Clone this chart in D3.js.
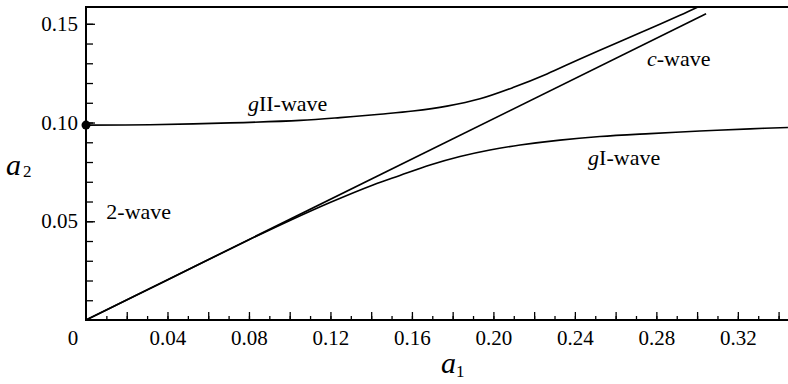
<!DOCTYPE html>
<html>
<head>
<meta charset="utf-8">
<script src="https://cdn.jsdelivr.net/npm/d3@7"></script>
<style>
  body { margin: 0; background: #fff; }
  text { font-family: "Liberation Serif", "DejaVu Serif", serif; }
</style>
</head>
<body>
<svg id="chart" width="788" height="384"></svg>
<script>
// a1 / a2 curves
const cWave = [[0, 0], [0.3044, 0.1551]];

const gIIWave = [
  [0, 0.0987], [0.0314, 0.0989], [0.0707, 0.0998], [0.1051, 0.1011],
  [0.1247, 0.1025], [0.1443, 0.1042], [0.1605, 0.1058], [0.1772, 0.1083],
  [0.1934, 0.1120], [0.2096, 0.1177], [0.2263, 0.1246], [0.2425, 0.1322],
  [0.2622, 0.1410], [0.2769, 0.1476], [0.2916, 0.1543], [0.3004, 0.1585]
];

const gIWave = [
  [0, 0], [0.04, 0.0203], [0.08, 0.0406], [0.1001, 0.0504], [0.1198, 0.0595],
  [0.1409, 0.0684], [0.1541, 0.0732], [0.1689, 0.0785], [0.1836, 0.0828],
  [0.1983, 0.0861], [0.2131, 0.0886], [0.2327, 0.0911], [0.2523, 0.0929],
  [0.2769, 0.0944], [0.3014, 0.0957], [0.3260, 0.0968], [0.3446, 0.0975]
];

const startPoint = [0, 0.0987];

const xLabelTicks = [0.04, 0.08, 0.12, 0.16, 0.20, 0.24, 0.28, 0.32];
const yLabelTicks = [0.05, 0.10, 0.15];

const regionLabels = [
  { a1: 0.010, a2: 0.051, parts: [["2-wave", false]] },
  { a1: 0.0795, a2: 0.1057, parts: [["g", true], ["II-wave", false]] },
  { a1: 0.2465, a2: 0.0787, parts: [["g", true], ["I-wave", false]] },
  { a1: 0.2754, a2: 0.1286, parts: [["c", true], ["-wave", false]] }
];

const serif = "Liberation Serif";

const svg = d3.select("#chart");

const x = d3.scaleLinear().domain([0, 0.35]).range([86, 86 + 0.35 * 2037]);
const y = d3.scaleLinear().domain([0, 0.1585]).range([320, 7]);

// minor ticks every 0.01
const xMinor = d3.range(1, 35).map(i => i / 100);
const xMajor = d3.range(1, 18).map(i => i / 50);
const yMinor = d3.range(1, 16).map(i => i / 100);

svg.append("g")
    .attr("transform", "translate(0,320)")
    .call(d3.axisBottom(x).tickValues(xMinor).tickSize(-4).tickFormat(""))
    .call(g => g.select(".domain").remove())
    .selectAll("line").attr("stroke-width", 1.3);

svg.append("g")
    .attr("transform", "translate(0,320)")
    .call(d3.axisBottom(x).tickValues(xMajor).tickSize(-8).tickFormat(""))
    .call(g => g.select(".domain").remove())
    .selectAll("line").attr("stroke-width", 1.3);

svg.append("g")
    .attr("transform", "translate(0,320)")
    .call(d3.axisBottom(x).tickValues(xLabelTicks).tickSize(0).tickPadding(10)
        .tickFormat(d3.format(".2f")))
    .call(g => g.select(".domain").remove())
    .selectAll("text")
    .style("font-family", serif)
    .style("font-size", "21px");

svg.append("g")
    .attr("transform", "translate(86,0)")
    .call(d3.axisLeft(y).tickValues(yMinor).tickSize(-7).tickFormat(""))
    .call(g => g.select(".domain").remove())
    .selectAll("line").attr("stroke-width", 1.3);

svg.append("g")
    .attr("transform", "translate(86,0)")
    .call(d3.axisLeft(y).tickValues(yLabelTicks).tickSize(-9).tickPadding(8)
        .tickFormat(d3.format(".2f")))
    .call(g => g.select(".domain").remove())
    .call(g => g.selectAll("line").attr("stroke-width", 1.3))
    .selectAll("text")
    .style("font-family", serif)
    .style("font-size", "21px");

// origin label sits left of the corner
svg.append("text")
    .attr("x", x(0) - 13)
    .attr("y", 345)
    .attr("text-anchor", "middle")
    .style("font-family", serif)
    .style("font-size", "21px")
    .text("0");

// frame: left, bottom, top (image is cut on the right)
svg.append("path")
    .attr("d", `M788,${y(0)}H${x(0)}V${y(0.1585)}H788`)
    .attr("fill", "none")
    .attr("stroke", "#000")
    .attr("stroke-width", 2);

const line = d3.line()
    .x(d => x(d[0]))
    .y(d => y(d[1]))
    .curve(d3.curveCatmullRom);

[cWave, gIIWave, gIWave].forEach(pts => {
  svg.append("path")
      .datum(pts)
      .attr("d", line)
      .attr("fill", "none")
      .attr("stroke", "#000")
      .attr("stroke-width", 1.6);
});

svg.append("circle")
    .attr("cx", x(startPoint[0]))
    .attr("cy", y(startPoint[1]))
    .attr("r", 4.5)
    .attr("fill", "#000");

regionLabels.forEach(l => {
  const t = svg.append("text")
      .attr("x", x(l.a1))
      .attr("y", y(l.a2))
      .style("font-family", serif)
      .style("font-size", "22px");
  l.parts.forEach(([s, it]) => {
    t.append("tspan").style("font-style", it ? "italic" : "normal").text(s);
  });
});

// axis titles
const xt = svg.append("text").attr("x", 441).attr("y", 373)
    .style("font-family", serif)
    .style("font-size", "30px").style("font-style", "italic");
xt.append("tspan").text("a");
xt.append("tspan").attr("dy", 4).style("font-size", "17px").style("font-style", "normal").text("1");

const yt = svg.append("text").attr("x", 6).attr("y", 175)
    .style("font-family", serif)
    .style("font-size", "30px").style("font-style", "italic");
yt.append("tspan").text("a");
yt.append("tspan").attr("dx", 2).attr("dy", 2).style("font-size", "17px").style("font-style", "normal").text("2");
</script>
</body>
</html>
